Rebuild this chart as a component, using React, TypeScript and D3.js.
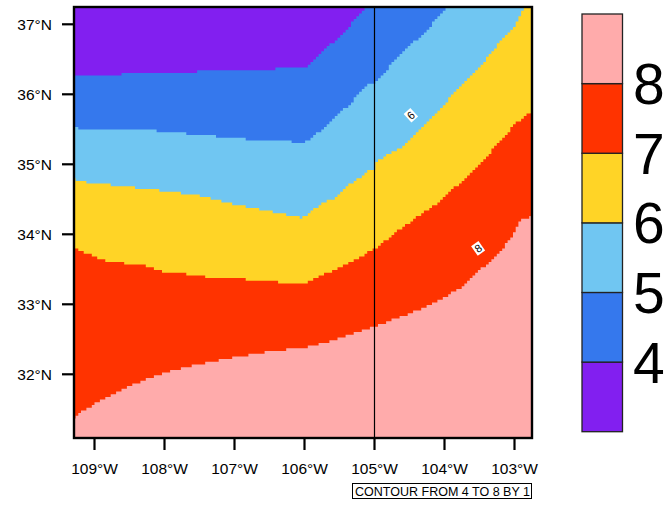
import React from "react";
import * as d3 from "d3";

const lonTicks = [-109, -108, -107, -106, -105, -104, -103];
const latTicks = [32, 33, 34, 35, 36, 37];
const legendLevels = [4, 5, 6, 7, 8];
const colors = ["#821FF0", "#3578ED", "#70C6F2", "#FFD426", "#FF3300", "#FFABAB"];

// contour lines as [lon, lat]
const c4: [number, number][] = [[-109.3,36.26],[-108.97,36.27],[-108.14,36.31],[-106.89,36.34],[-106.29,36.37],[-106.0,36.365],[-105.83,36.52],[-105.67,36.7],[-105.57,36.75],[-105.11,37.25]];
const c5: [number, number][] = [[-109.3,35.52],[-109.03,35.49],[-108.27,35.49],[-107.6,35.43],[-107.06,35.38],[-106.54,35.33],[-106.1,35.32],[-106.04,35.3],[-105.86,35.4],[-105.57,35.67],[-105.39,35.83],[-105.1,36.13],[-105.0,36.16],[-104.61,36.6],[-104.26,36.9],[-103.97,37.25]];
const c6: [number, number][] = [[-109.3,34.8],[-109.21,34.75],[-108.88,34.72],[-108.56,34.68],[-107.99,34.62],[-107.49,34.55],[-106.92,34.41],[-106.21,34.27],[-106.04,34.23],[-105.86,34.36],[-105.71,34.46],[-105.57,34.52],[-105.39,34.68],[-105.1,34.9],[-105.0,34.94],[-104.96,35.04],[-104.61,35.26],[-104.33,35.51],[-104.0,35.87],[-103.69,36.19],[-103.36,36.56],[-103.19,36.77],[-102.97,37.01],[-102.86,37.25]];
const c7: [number, number][] = [[-109.28,33.8],[-109.14,33.74],[-109.04,33.69],[-108.75,33.6],[-108.36,33.57],[-108.03,33.47],[-107.69,33.43],[-107.31,33.38],[-106.92,33.36],[-106.3,33.31],[-106.0,33.3],[-105.79,33.41],[-105.57,33.49],[-105.17,33.69],[-105.1,33.74],[-105.0,33.79],[-104.67,34.05],[-104.14,34.42],[-103.61,34.89],[-103.24,35.29],[-103.04,35.53],[-102.79,35.74]];
const c8: [number, number][] = [[-109.3,31.38],[-109.14,31.49],[-108.96,31.6],[-108.53,31.83],[-108.1,31.99],[-107.77,32.09],[-107.39,32.17],[-107.01,32.24],[-106.63,32.31],[-106.3,32.35],[-106.01,32.38],[-105.57,32.49],[-105.39,32.56],[-105.0,32.68],[-104.57,32.84],[-104.14,33.02],[-103.76,33.25],[-103.57,33.43],[-103.24,33.71],[-103.04,33.96],[-102.93,34.2],[-102.79,34.25]];
const contours = [c4, c5, c6, c7, c8];

const lineLabels = [
  { text: "6", lon: -104.48, lat: 35.7, rot: -42 },
  { text: "8", lon: -103.52, lat: 33.8, rot: -35 },
];

const x = d3.scaleLinear().domain([-109, -103]).range([94.5, 514.5]);
const y = d3.scaleLinear().domain([32, 37]).range([374.3, 24.3]);
const left = 74, right = 532, top = 7, bottom = 438;
const font = "'Liberation Sans', Arial, sans-serif";

// The reference is a raster fill: trace each contour on the grid of map cells.
const cell = 2.7;
const staircase = (c: [number, number][]) => {
  let d = "";
  let last: [number, number] | null = null;
  for (let i = 0; i + 1 < c.length; i++) {
    const [ax, ay] = [x(c[i][0]), y(c[i][1])];
    const [bx, by] = [x(c[i + 1][0]), y(c[i + 1][1])];
    const n = Math.ceil(Math.hypot(bx - ax, by - ay));
    for (let k = 0; k <= n; k++) {
      const sx = Math.round((ax + ((bx - ax) * k) / n) / cell) * cell;
      const sy = Math.round((ay + ((by - ay) * k) / n) / cell) * cell;
      if (!last) d += `M${sx},${sy}`;
      else if (sx !== last[0] || sy !== last[1]) d += `H${sx}V${sy}`;
      last = [sx, sy];
    }
  }
  return d;
};
// region below a contour line, closed along the bottom of the map
const below = (c: [number, number][]) =>
  staircase(c) + `L${right + 10},${y(c[c.length - 1][1])}L${right + 10},${bottom + 10}L${left - 10},${bottom + 10}L${left - 10},${y(c[0][1])}Z`;

const legendY = d3.scaleLinear().domain([3, 9]).range([431.7, 14]);
const fmtLon = (d: number) => `${Math.abs(d)}°W`;
const fmtLat = (d: number) => `${d}°N`;

export default function App() {
  return (
    <svg width={670} height={508} style={{ position: "absolute", left: 0, top: 0 }} fontFamily={font}>
      <defs>
        <clipPath id="map"><rect x={left} y={top} width={right - left} height={bottom - top} /></clipPath>
      </defs>
      <g clipPath="url(#map)">
        <rect x={left} y={top} width={right - left} height={bottom - top} fill={colors[0]} />
        {contours.map((c, i) => <path key={i} d={below(c)} fill={colors[i + 1]} />)}
        <line x1={x(-105)} x2={x(-105)} y1={top} y2={bottom} stroke="#000" strokeWidth={1.2} />
        {lineLabels.map((l) => (
          <g key={l.text} transform={`translate(${x(l.lon)},${y(l.lat)}) rotate(${l.rot})`}>
            <rect x={-4.5} y={-5.8} width={9} height={11.6} fill="#fff" />
            <text textAnchor="middle" y={4} fontSize={11} fill="#000">{l.text}</text>
          </g>
        ))}
      </g>
      <rect x={left} y={top} width={right - left} height={bottom - top} fill="none" stroke="#000" strokeWidth={2.4} />
      {lonTicks.map((d) => (
        <g key={d}>
          <line x1={x(d)} x2={x(d)} y1={bottom} y2={bottom + 12} stroke="#000" strokeWidth={2.2} />
          <text x={x(d)} y={474} textAnchor="middle" fontSize={15.5} fill="#000">{fmtLon(d)}</text>
        </g>
      ))}
      {latTicks.map((d) => (
        <g key={d}>
          <line x1={left - 12} x2={left} y1={y(d)} y2={y(d)} stroke="#000" strokeWidth={2.2} />
          <text x={52} y={y(d) + 5.6} textAnchor="end" fontSize={15.5} fill="#000">{fmtLat(d)}</text>
        </g>
      ))}
      <rect x={352.5} y={483.5} width={179} height={15} fill="#fff" stroke="#000" strokeWidth={1} />
      <text x={355} y={495.5} fontSize={12.2} fill="#000" textLength={175} lengthAdjust="spacingAndGlyphs">CONTOUR FROM 4 TO 8 BY 1</text>
      {colors.map((c, i) => (
        <rect key={c} x={582} y={legendY(i + 4)} width={40.5} height={legendY(i + 3) - legendY(i + 4)} fill={c} stroke="#222" strokeWidth={1.3} />
      ))}
      {legendLevels.map((d) => (
        <text key={d} x={633} y={legendY(d) + 20.5} fontSize={57} fill="#000">{d}</text>
      ))}
    </svg>
  );
}
